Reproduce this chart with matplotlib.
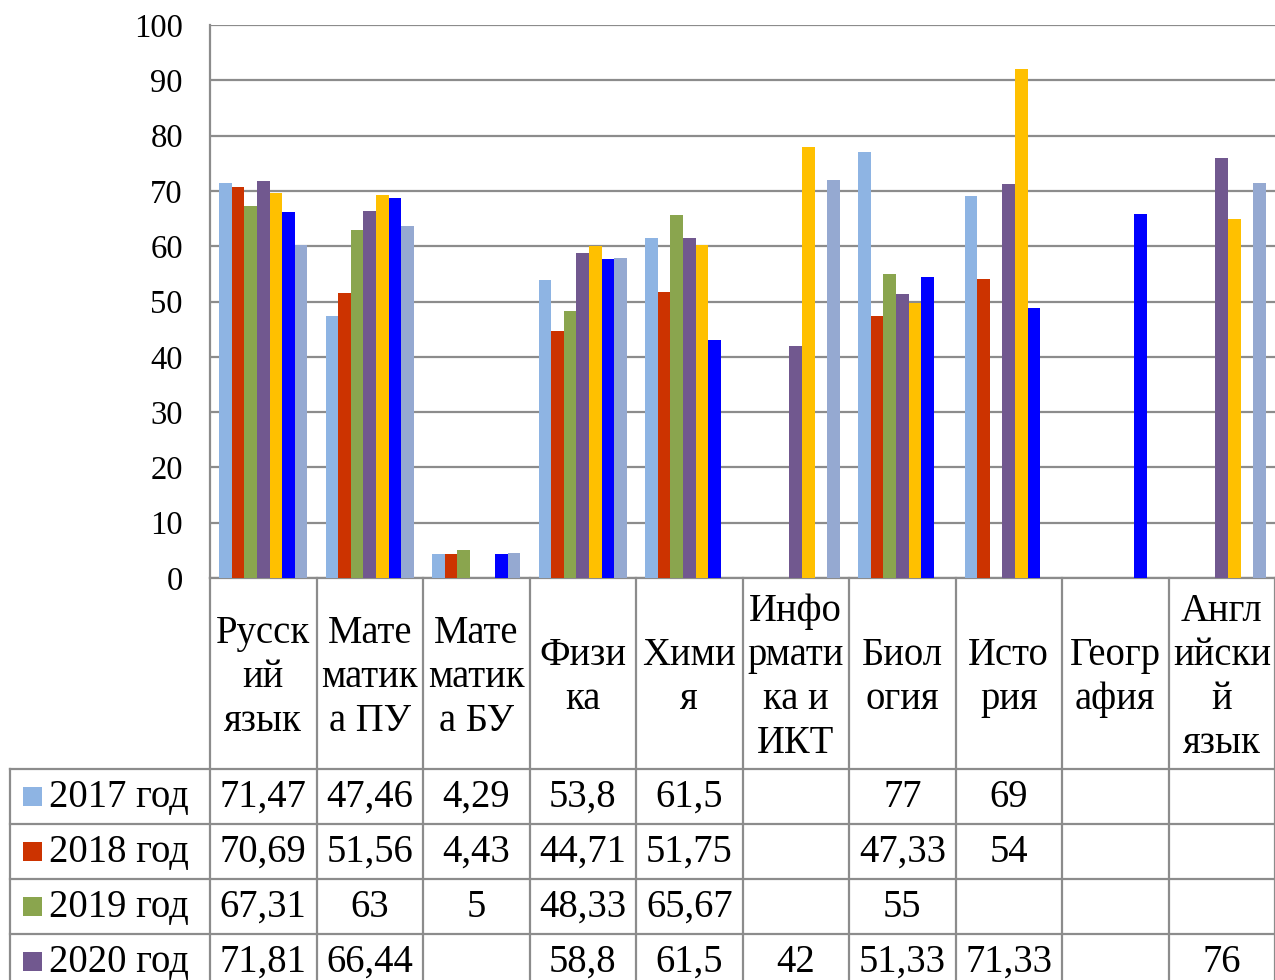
import numpy as np
import matplotlib
matplotlib.use("Agg")
import matplotlib.pyplot as plt
from matplotlib.transforms import blended_transform_factory
from matplotlib.lines import Line2D
from matplotlib.patches import Rectangle

nan = np.nan
categories = ["Русск\nий\nязык", "Мате\nматик\nа ПУ", "Мате\nматик\nа БУ", "Физи\nка",
              "Хими\nя", "Инфо\nрмати\nка и\nИКТ", "Биол\nогия", "Исто\nрия",
              "Геогр\nафия", "Англ\nийски\nй\nязык"]
series_names = ["2017 год", "2018 год", "2019 год", "2020 год", "2021 год", "2022 год", "2023 год"]
y2017 = [71.47, 47.46, 4.29, 53.8, 61.5, nan, 77, 69, nan, nan]
y2018 = [70.69, 51.56, 4.43, 44.71, 51.75, nan, 47.33, 54, nan, nan]
y2019 = [67.31, 63, 5, 48.33, 65.67, nan, 55, nan, nan, nan]
y2020 = [71.81, 66.44, nan, 58.8, 61.5, 42, 51.33, 71.33, nan, 76]
y2021 = [69.6, 69.3, nan, 60, 60.3, 78, 49.7, 92, nan, 65]
y2022 = [66.1, 68.7, 4.4, 57.7, 43, nan, 54.4, 48.9, 65.9, nan]
y2023 = [60.2, 63.6, 4.5, 57.9, nan, 72, nan, nan, nan, 71.4]
series = [y2017, y2018, y2019, y2020, y2021, y2022, y2023]
colors = ["#8EB4E3", "#CC3300", "#8AA54E", "#71588F", "#FFC000", "#0000FF", "#95A9D1"]

plt.rcParams['font.family'] = ['Liberation Serif', 'DejaVu Serif']
W, H = 1275, 980
fig = plt.figure(figsize=(W / 100, H / 100), dpi=100)
fig.patch.set_facecolor("white")

def fy(px):
    return 1 - px / H

def fx(px):
    return px / W

grid_c = "#8C8C8C"
ax = fig.add_axes([fx(210), fy(578), fx(1275) - fx(210), fy(25) - fy(578)])
ax.set_xlim(-0.5, len(categories) - 0.5)
ax.set_ylim(0, 100)
ax.set_yticks(np.arange(0, 101, 10))
ax.set_xticks([])
ax.yaxis.grid(True, color=grid_c, linewidth=1.6)
ax.set_axisbelow(True)
for s in ["top", "right"]:
    ax.spines[s].set_visible(False)
for s in ["left", "bottom"]:
    ax.spines[s].set_color(grid_c)
    ax.spines[s].set_linewidth(1.6)
ax.tick_params(axis="y", length=0, pad=19.5, labelsize=23.5)

n = len(series)
bw = 1 / (n + 1.5)
x = np.arange(len(categories))
for j, (vals, c) in enumerate(zip(series, colors)):
    ax.bar(x + (j - (n - 1) / 2) * bw, vals, width=bw, color=c, linewidth=0, zorder=3)

# data table below the axis
trans = blended_transform_factory(ax.transData, fig.transFigure)
tfs = 27.8
header_top, header_bot = 578, 769
row_h = 55
rows_bottom = header_bot + row_h * n
for k in range(len(categories) + 1):
    fig.add_artist(Line2D([k - 0.5, k - 0.5], [fy(header_top), fy(rows_bottom)],
                          transform=trans, color=grid_c, lw=1.6))
fig.add_artist(Line2D([fx(10), fx(10)], [fy(header_bot), fy(rows_bottom)],
                      transform=fig.transFigure, color=grid_c, lw=1.6))
for r in range(n + 1):
    yy = fy(header_bot + r * row_h)
    fig.add_artist(Line2D([fx(10), 1], [yy, yy], transform=fig.transFigure, color=grid_c, lw=1.6))

for i, cat in enumerate(categories):
    fig.text(i, fy((header_top + header_bot) / 2 + 4), cat, transform=trans, ha="center",
             va="center", multialignment="center", fontsize=tfs, linespacing=1.25)

def fmt(v):
    if np.isnan(v):
        return ""
    return f"{v:g}".replace(".", ",")

for j, (name, vals, c) in enumerate(zip(series_names, series, colors)):
    top = header_bot + row_h * j
    if top >= H:
        continue  # rows below the visible canvas
    yc = top + row_h / 2
    fig.add_artist(Rectangle((fx(23), fy(yc + 9.5)), fx(19), fy(0) - fy(19),
                             transform=fig.transFigure, color=c, lw=0))
    fig.text(fx(49), fy(yc + 1), name, ha="left", va="center", fontsize=tfs)
    for i, v in enumerate(vals):
        fig.text(i, fy(yc + 1), fmt(v), transform=trans, ha="center", va="center", fontsize=tfs)

fig.savefig("out.png", dpi=100)
